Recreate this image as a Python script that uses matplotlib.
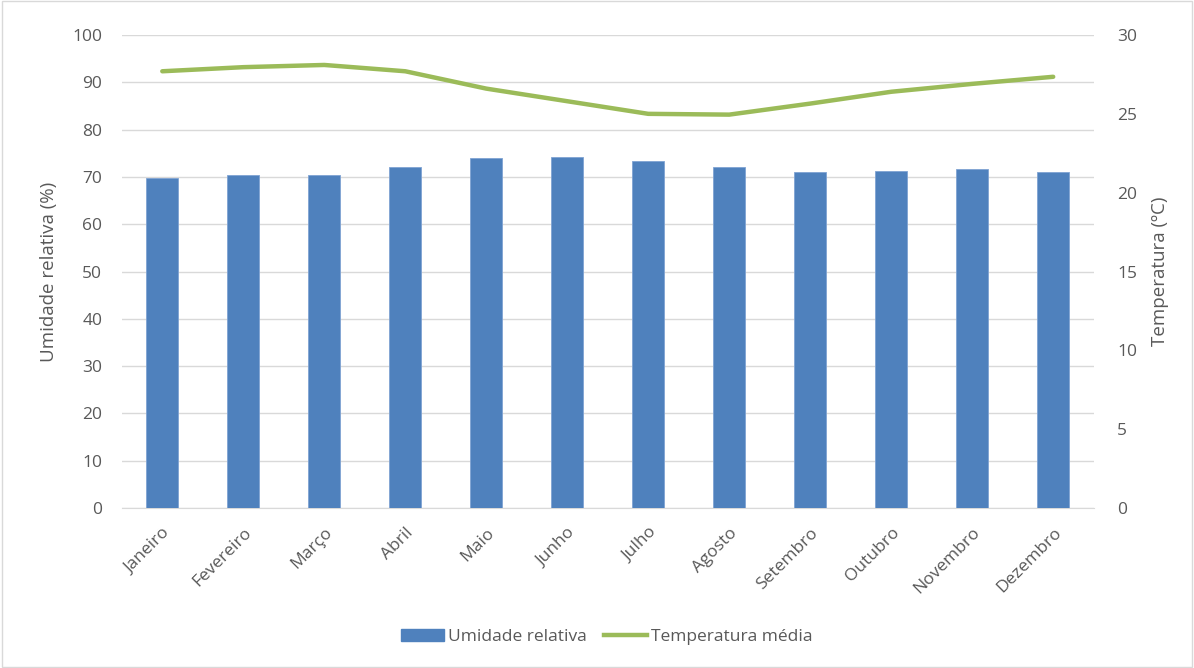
import numpy as np
import matplotlib.pyplot as plt
from matplotlib.lines import Line2D
from matplotlib.patches import Patch

meses = ["Janeiro", "Fevereiro", "Março", "Abril", "Maio", "Junho",
         "Julho", "Agosto", "Setembro", "Outubro", "Novembro", "Dezembro"]
umidade = [69.8, 70.3, 70.4, 72.1, 73.9, 74.2, 73.3, 72.0, 71.1, 71.2, 71.7, 71.0]
temperatura = [27.7, 27.96, 28.1, 27.7, 26.6, 25.8, 25.0, 24.95, 25.65, 26.4, 26.9, 27.35]

plt.rcParams["font.family"] = ["Open Sans", "DejaVu Sans"]
cinza = "#595959"
azul = "#4f81bd"
verde = "#9bbb59"

fig = plt.figure(figsize=(11.94, 6.68), dpi=100)
ax = fig.add_axes([0.102, 0.2395, 0.814, 0.7081])
x = np.arange(len(meses))
ax.bar(x, umidade, width=0.4, color=azul, edgecolor="#7fa3d3", linewidth=0.6, zorder=3)
ax.set_xlim(-0.5, len(meses) - 0.5)
ax.set_ylim(0, 100)
ax.set_yticks(range(0, 101, 10))
ax.yaxis.grid(True, color="#d9d9d9", linewidth=1, zorder=0)
ax.set_xticks(x)
ax.set_xticklabels(meses, rotation=45, ha="right", rotation_mode="anchor")
ax.tick_params(axis="both", length=0, colors=cinza, labelsize=12.5)
ax.tick_params(axis="y", pad=14)
ax.tick_params(axis="x", pad=12)
for s in ["top", "right", "left"]:
    ax.spines[s].set_visible(False)
ax.spines["bottom"].set_color("#d9d9d9")
ax.set_ylabel("Umidade relativa (%)", color=cinza, fontsize=13.5, labelpad=10)

ax2 = ax.twinx()
ax2.plot(x, temperatura, color=verde, linewidth=3.2, solid_capstyle="round", zorder=4)
ax2.set_ylim(0, 30)
ax2.set_yticks(range(0, 31, 5))
ax2.tick_params(axis="y", length=0, colors=cinza, labelsize=12.5, pad=17)
for s in ["top", "right", "left", "bottom"]:
    ax2.spines[s].set_visible(False)
ax2.set_ylabel("Temperatura (ºC)", color=cinza, fontsize=13.5, labelpad=10)

handles = [Patch(facecolor=azul, edgecolor=azul),
           Line2D([0], [0], color=verde, linewidth=3.2)]
fig.legend(handles, ["Umidade relativa", "Temperatura média"], loc="center",
           bbox_to_anchor=(0.508, 0.046), ncol=2, frameon=False, fontsize=12.5,
           labelcolor=cinza, handlelength=2.5, columnspacing=1.0, handletextpad=0.2)

fig.patches.append(plt.Rectangle((0.002, 0.002), 0.996, 0.996, transform=fig.transFigure,
                                 fill=False, edgecolor="#d9d9d9", linewidth=1))
fig.savefig("out.png", dpi=100)
